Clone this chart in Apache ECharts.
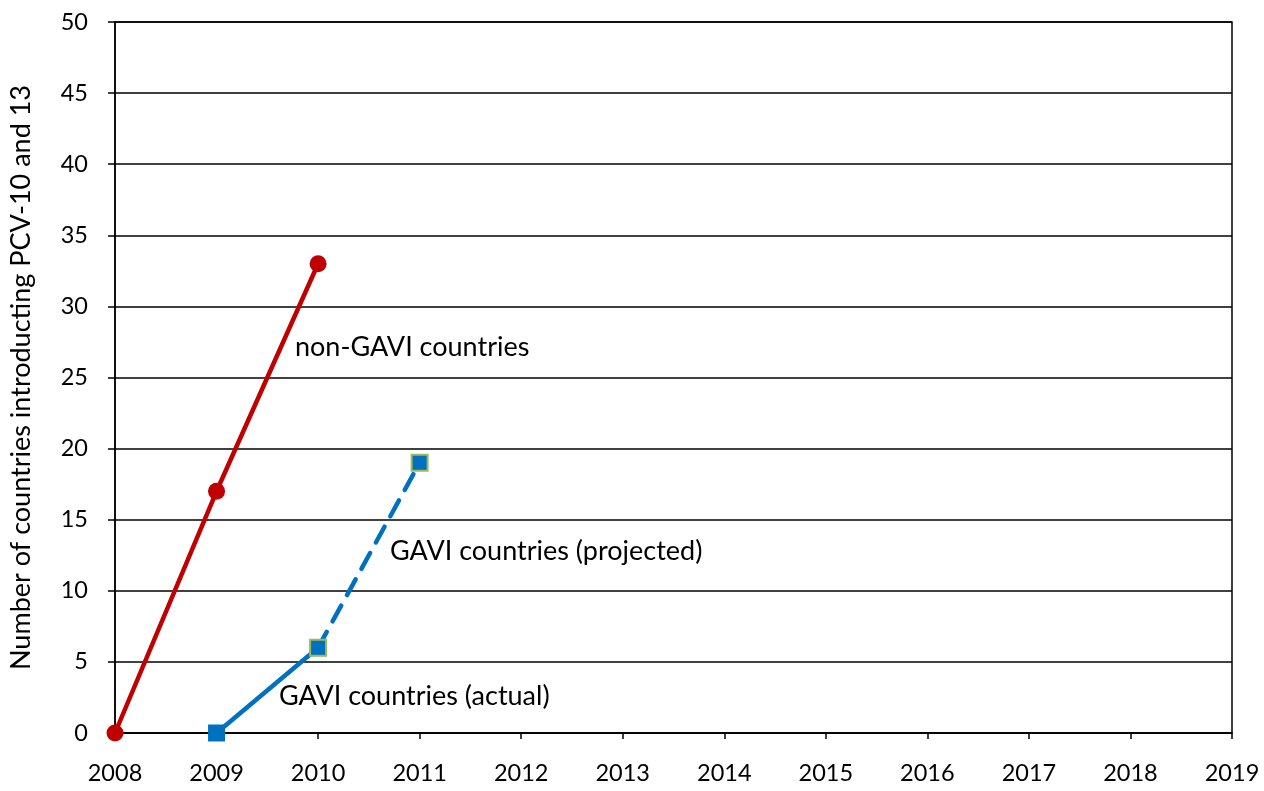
<!DOCTYPE html>
<html><head><meta charset="utf-8">
<script src="https://cdn.jsdelivr.net/npm/echarts@6/dist/echarts.min.js"></script>
<style>html,body{margin:0;padding:0;background:#fff}#c{width:1264px;height:791px}</style>
</head><body><div id="c"></div>
<script>
const years = [2008, 2009, 2010, 2011];
const nonGavi = [[2008, 0], [2009, 17], [2010, 33]];
const gaviActual = [[2009, 0], [2010, 6]];
const gaviProjected = [[2010, 6], [2011, 19]];
const xMin = 2008, xMax = 2019;
const yMin = 0, yMax = 50, yStep = 5;
const yTitle = 'Number of countries introducting PCV-10 and 13';
const notes = [
  {text: 'non-GAVI countries', x: 295, y: 347},
  {text: 'GAVI countries (projected)', x: 390, y: 551},
  {text: 'GAVI countries (actual)', x: 279, y: 696}
];
const font = 'Lato';
const chart = echarts.init(document.getElementById('c'));
chart.setOption({
  animation: false,
  grid: {left: 115, right: 32, top: 22, bottom: 58, show: true, borderColor: '#000', borderWidth: 1.5,
         containLabel: false, outerBoundsMode: 'none'},
  xAxis: {
    type: 'value', min: xMin, max: xMax, interval: 1,
    axisLine: {show: true, lineStyle: {color: '#000', width: 1.5}},
    axisTick: {show: true, length: 6, lineStyle: {color: '#000', width: 1.5}},
    axisLabel: {color: '#000', fontSize: 23.5, fontFamily: font, margin: 28, formatter: v => String(v)},
    splitLine: {show: false}
  },
  yAxis: {
    type: 'value', min: yMin, max: yMax, interval: yStep,
    name: yTitle, nameLocation: 'middle', nameGap: 80, nameRotate: 90,
    nameTextStyle: {color: '#000', fontSize: 27, fontFamily: font},
    axisLine: {show: true, lineStyle: {color: '#000', width: 1.5}},
    axisTick: {show: true, length: 7, lineStyle: {color: '#000', width: 1.5}},
    axisLabel: {color: '#000', fontSize: 23.5, fontFamily: font, margin: 27},
    splitLine: {show: true, lineStyle: {color: '#000', width: 1.5}}
  },
  series: [
    {type: 'line', data: nonGavi, symbol: 'circle', symbolSize: 17,
     lineStyle: {color: '#C00000', width: 4.5}, itemStyle: {color: '#C00000'}, z: 3},
    {type: 'line', data: gaviProjected, symbol: 'rect', symbolSize: 16,
     lineStyle: {color: '#0070C0', width: 4.5, type: [18, 12], cap: 'round'},
     itemStyle: {color: '#0070C0', borderColor: '#9BBB59', borderWidth: 2}, z: 3},
    {type: 'line', data: gaviActual, symbol: 'rect', symbolSize: 17,
     lineStyle: {color: '#0070C0', width: 4.5}, itemStyle: {color: '#0070C0'},
     z: 2}
  ],
  graphic: notes.map(n => ({
    type: 'text', x: n.x, y: n.y,
    style: {text: n.text, fill: '#000', fontSize: 27, fontFamily: font, verticalAlign: 'middle', align: 'left'}
  }))
});
</script></body></html>
